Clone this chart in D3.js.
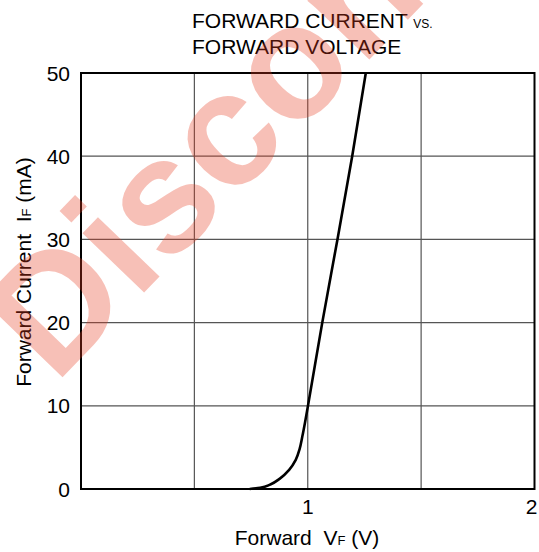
<!DOCTYPE html>
<html>
<head>
<meta charset="utf-8">
<script src="https://cdn.jsdelivr.net/npm/d3@7"></script>
<style>
  html, body { margin: 0; padding: 0; background: #fff; }
  svg { display: block; }
  text { font-family: "Liberation Sans", Arial, Helvetica, sans-serif; white-space: pre; }
</style>
</head>
<body>
<div id="chart"></div>
<script>
// ---- data ----
const voltage = [0.744, 0.79, 0.835, 0.877, 0.918, 0.947, 0.964, 0.976, 0.988, 1.001, 1.064, 1.131, 1.196, 1.256];
const current = [0, 0.15, 0.55, 1.25, 2.3, 3.5, 4.8, 6.3, 8.0, 10, 20, 30, 40, 50];
const xTickValues = [1, 2];
const xGridValues = [0.5, 1, 1.5];
const yTickValues = [0, 10, 20, 30, 40, 50];
const yGridValues = [10, 20, 30, 40];
const titleLines = ["FORWARD CURRENT ", "FORWARD VOLTAGE"];
const watermark = "Discontinued";

const W = 539, H = 552;
const svg = d3.select("#chart").append("svg").attr("width", W).attr("height", H);

const x = d3.scaleLinear().domain([0, 2]).range([81, 534.5]);
const y = d3.scaleLinear().domain([0, 50]).range([489, 73]);

// grid
svg.append("g").selectAll("line").data(xGridValues).join("line")
  .attr("x1", d => x(d)).attr("x2", d => x(d))
  .attr("y1", y(0)).attr("y2", y(50))
  .attr("stroke", "#555").attr("stroke-width", 1.2);
svg.append("g").selectAll("line").data(yGridValues).join("line")
  .attr("x1", x(0)).attr("x2", x(2))
  .attr("y1", d => y(d)).attr("y2", d => y(d))
  .attr("stroke", "#555").attr("stroke-width", 1.2);

// frame
svg.append("rect")
  .attr("x", x(0)).attr("y", y(50))
  .attr("width", x(2) - x(0)).attr("height", y(0) - y(50))
  .attr("fill", "none").attr("stroke", "#000").attr("stroke-width", 2);

// curve
const pts = voltage.map((v, i) => [v, current[i]]);
svg.append("path")
  .datum(pts)
  .attr("fill", "none").attr("stroke", "#000").attr("stroke-width", 2.6)
  .attr("d", d3.line().x(d => x(d[0])).y(d => y(d[1])).curve(d3.curveMonotoneY));

// y tick labels
svg.append("g").selectAll("text").data(yTickValues).join("text")
  .attr("x", 70).attr("y", d => y(d)).attr("dy", "0.36em")
  .attr("text-anchor", "end").attr("font-size", 21).attr("fill", "#000")
  .text(d => d);

// x tick labels
svg.append("g").selectAll("text").data(xTickValues).join("text")
  .attr("x", d => d === 2 ? x(d) - 3 : x(d)).attr("y", 514)
  .attr("text-anchor", "middle").attr("font-size", 21).attr("fill", "#000")
  .text(d => d);

// x axis label
const xl = svg.append("text").attr("x", 307).attr("y", 545)
  .attr("text-anchor", "middle").attr("font-size", 21).attr("fill", "#000");
xl.append("tspan").text("Forward  V");
xl.append("tspan").attr("font-size", 13).text("F");
xl.append("tspan").text(" (V)");

// y axis label
const yl = svg.append("text").attr("transform", "translate(31,272) rotate(-90)")
  .attr("text-anchor", "middle").attr("font-size", 21).attr("fill", "#000");
yl.append("tspan").text("Forward Current  I");
yl.append("tspan").attr("font-size", 13).text("F");
yl.append("tspan").text(" (mA)");

// title
const t1 = svg.append("text").attr("x", 192).attr("y", 28).attr("font-size", 21).attr("fill", "#000");
t1.append("tspan").text(titleLines[0]);
t1.append("tspan").attr("font-size", 12).text("VS.");
svg.append("text").attr("x", 192).attr("y", 54).attr("font-size", 21).attr("fill", "#000").text(titleLines[1]);

// watermark
svg.append("text")
  .attr("transform", "translate(55,385) rotate(-46)")
  .attr("font-size", 162).attr("font-weight", "bold")
  .attr("fill", "rgb(230,60,30)").attr("fill-opacity", 0.32)
  .text(watermark);
</script>
</body>
</html>
